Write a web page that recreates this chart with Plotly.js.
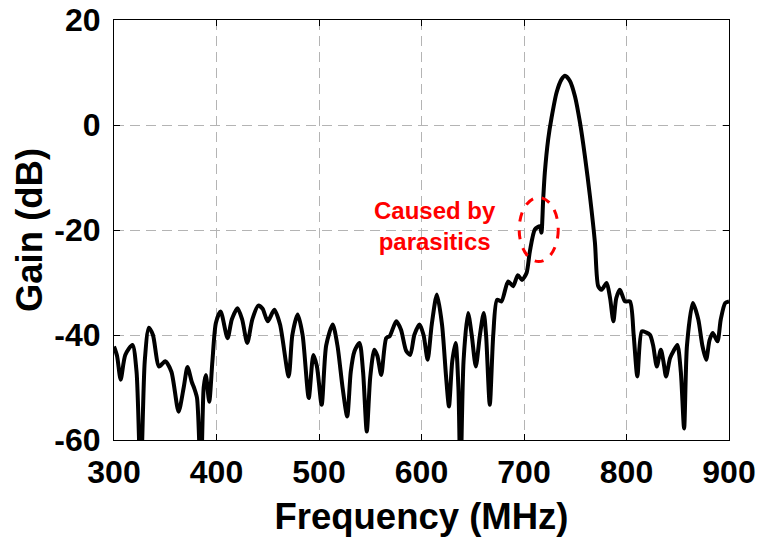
<!DOCTYPE html>
<html>
<head>
<meta charset="utf-8">
<script src="https://cdn.plot.ly/plotly-3.0.1.min.js"></script>
<style>html,body{margin:0;padding:0;background:#fff;}#chart{width:759px;height:537px;}</style>
</head>
<body>
<div id="chart"></div>
<script>
const freqMHz = [300,303,306.5,311,318,322,326,330,334,338,344,350,356,363,368,371.7,376,378,381,384.7,387.5,389.6,392.9,396,399.4,404,410.8,415,420.5,425,430,435,440.8,445,450,456.4,462,470.4,474,479.2,484,490,494.5,498,502.6,507,513.4,518,523,527.5,531,534.6,539.5,543,546.6,550,554,557,560.7,565.6,569,575.4,580,585,589,593,598,602,606,610,615,620,624,626.8,630,633.3,636,638,641,645.4,649,653,657,660.7,663,666.6,670,673.7,678,684.5,689.4,694,698,702.5,705.7,710.6,715.5,717,718.7,720.3,723.6,726.9,731.8,736.6,740,744.8,749.7,754.6,759.4,764.3,769.2,772.4,775.7,780.6,784,787.2,790,793.6,798.5,803.4,807,810.6,814.9,819,823,826,829.6,833.5,836,838.6,842.5,846,849.6,853,856.2,859,864.7,870,874,877.7,881,884.2,888.7,892,896.3,900];
const gainDB = [-42.2,-44,-48.5,-43.8,-41.9,-47,-68,-45,-38.6,-40,-46,-45,-47,-54.6,-50,-46.1,-49,-50,-52,-68,-50,-47.6,-52.7,-45,-37.7,-35.5,-40.6,-37,-34.9,-37,-41.5,-37,-34.4,-35,-37.4,-35.2,-38,-47.9,-40,-36.1,-40,-52,-43.8,-46,-53.3,-42,-38,-42,-50,-55.5,-47,-43.1,-41.5,-47,-58.4,-48,-42.8,-44,-47.6,-40.6,-40.2,-37.4,-39,-43,-43.8,-40,-38,-40,-44.7,-38,-32.3,-38,-48,-53.6,-45,-41.5,-50,-68,-45,-35.8,-40,-46,-40,-35.8,-40,-53.3,-40,-33.3,-33.6,-29.8,-30.7,-28.6,-29.5,-28.2,-24.1,-19.9,-19.3,-20.5,-14.2,-9.1,-2.7,1.4,6.2,8.7,9.4,8.4,5.5,0.5,-5.9,-13.5,-22.4,-30.7,-31.4,-30.1,-33,-37.4,-33,-31.4,-33.6,-33.6,-40,-47.9,-39.3,-39.5,-40,-42,-46,-42.8,-45,-47.9,-44.4,-43,-41.9,-47,-57.8,-42,-33.9,-37,-42,-44.7,-41,-39.6,-41.2,-37,-33.9,-33.6];
const xTicks = [300,400,500,600,700,800,900];
const xTickLabels = ['300','400','500','600','700','800','900'];
const yTicks = [20,0,-20,-40,-60];
const yTickLabels = ['20','0','-20','-40','-60'];
const noteText = "Caused by<br>parasitics";
const noteX = 613, noteY = -19.3;
const ellipseX = [695.3, 733.4];
const ellipseY = [-26, -13.8];

const trace = {
  x: freqMHz, y: gainDB, type: 'scatter', mode: 'lines',
  line: {color: '#000', width: 4, shape: 'spline', smoothing: 0.7},
  hoverinfo: 'skip', cliponaxis: true
};

const axisCommon = {
  showline: true, linecolor: '#000', linewidth: 1, mirror: 'ticks',
  ticks: 'inside', ticklen: 6, tickcolor: '#000', tickwidth: 1,
  showgrid: true, gridcolor: '#b4b4b4', gridwidth: 1, griddash: '10px,6px',
  zeroline: false, tickfont: {size: 32, color: '#000', weight: 'bold'}
};

const layout = {
  width: 759, height: 537,
  margin: {l: 114, r: 30, t: 20, b: 97},
  paper_bgcolor: '#fff', plot_bgcolor: '#fff',
  font: {family: 'Liberation Sans, Arial, sans-serif', color: '#000', weight: 'bold'},
  showlegend: false,
  xaxis: Object.assign({}, axisCommon, {
    range: [300, 900], tickmode: 'array', tickvals: xTicks, ticktext: xTickLabels, ticklabelstandoff: 4,
    title: {text: 'Frequency (MHz)', font: {size: 36.5, weight: 'bold'}, standoff: 15}
  }),
  yaxis: Object.assign({}, axisCommon, {
    range: [-60, 20], tickmode: 'array', tickvals: yTicks, ticktext: yTickLabels, ticklabelstandoff: 6,
    title: {text: 'Gain (dB)', font: {size: 36.5, weight: 'bold'}, standoff: 0}
  }),
  annotations: [{
    x: noteX, y: noteY, xref: 'x', yref: 'y', text: noteText, showarrow: false,
    font: {size: 24, color: '#ff0000', weight: 'bold'}, align: 'center'
  }],
  shapes: [{
    type: 'circle', xref: 'x', yref: 'y',
    x0: ellipseX[0], x1: ellipseX[1], y0: ellipseY[0], y1: ellipseY[1],
    line: {color: '#ff0000', width: 3, dash: 'dash'}
  }]
};

Plotly.newPlot('chart', [trace], layout, {displayModeBar: false, staticPlot: true});
</script>
</body>
</html>
